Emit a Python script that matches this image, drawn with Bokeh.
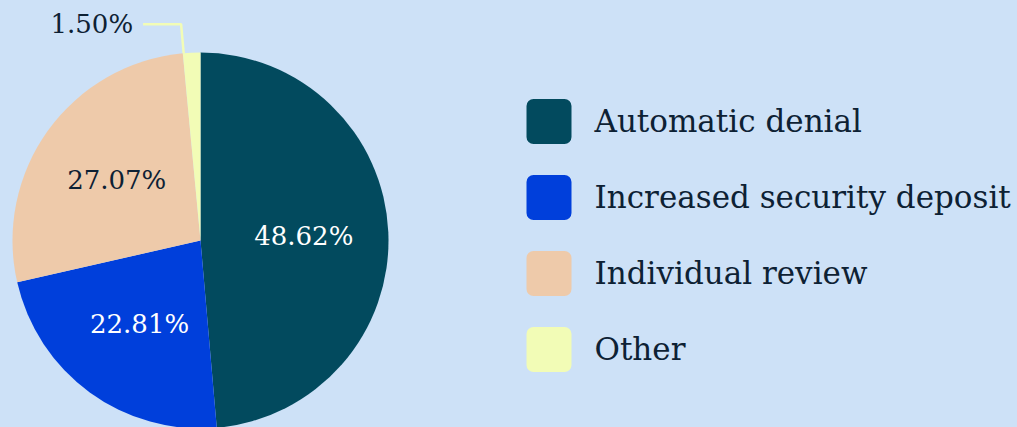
import math
from bokeh.plotting import figure
from bokeh.models import Range1d, ColumnDataSource
from bokeh.core.properties import value
from bokeh.embed import file_html
from bokeh.resources import INLINE

# ---- data ----
categories = ["Automatic denial", "Increased security deposit", "Individual review", "Other"]
shares = [48.62, 22.81, 27.07, 1.50]
colors = ["#024a5e", "#003fdb", "#eecaaa", "#f2fcb6"]
label_colors = ["#ffffff", "#ffffff", "#0d2134", "#0d2134"]

# ---- style ----
BG = "#cde1f7"
TEXT = "#0d2134"
FONT = "DejaVu Serif"
W, H = 1017, 427
CX, CY, R = 200, H - 240, 188
LABEL_FRAC = 0.55

p = figure(width=W, height=H, x_range=Range1d(0, W), y_range=Range1d(0, H),
           output_backend="svg", toolbar_location=None, min_border=0)
p.axis.visible = False
p.grid.visible = False
p.outline_line_color = None
p.background_fill_color = BG
p.border_fill_color = BG

total = sum(shares)
starts, ends, mids = [], [], []
cum = 0.0
for s in shares:
    a0 = math.pi / 2 - 2 * math.pi * cum / total
    cum += s
    a1 = math.pi / 2 - 2 * math.pi * cum / total
    starts.append(a0)
    ends.append(a1)
    mids.append((a0 + a1) / 2)

src = ColumnDataSource(dict(start=starts, end=ends, color=colors))
p.wedge(x=CX, y=CY, radius=R, start_angle="start", end_angle="end", direction="clock",
        fill_color="color", line_color=None, source=src)

# in-slice labels (all but the tiny one)
lx, ly, lt, lc = [], [], [], []
for i, s in enumerate(shares):
    if s < 5:
        continue
    lx.append(CX + LABEL_FRAC * R * math.cos(mids[i]))
    ly.append(CY + LABEL_FRAC * R * math.sin(mids[i]))
    lt.append(f"{s:.2f}%")
    lc.append(label_colors[i])
p.text(x=lx, y=ly, text=lt, text_color=lc, text_font=value(FONT), text_font_size="26px",
       text_align="center", text_baseline="middle")

# leader for small slice
for i, s in enumerate(shares):
    if s >= 5:
        continue
    ang = starts[i] - 0.05 * (starts[i] - ends[i])
    x0, y0 = CX + R * math.cos(ang), CY + R * math.sin(ang)
    x1, y1 = CX + 1.155 * R * math.cos(ang), CY + 1.155 * R * math.sin(ang)
    x2 = x1 - 38
    p.line(x=[x0, x1, x2], y=[y0, y1, y1], line_color=colors[i], line_width=2.5)
    p.text(x=[x2 - 10], y=[y1], text=[f"{s:.2f}%"], text_color=TEXT, text_font=value(FONT),
           text_font_size="26px", text_align="right", text_baseline="middle")

# legend
SQ = 45
LX = 548.5
rows_y = [H - (121 + 76 * i) for i in range(len(categories))]
p.quad(left=[LX - SQ / 2] * len(categories), right=[LX + SQ / 2] * len(categories),
       top=[y + SQ / 2 for y in rows_y], bottom=[y - SQ / 2 for y in rows_y],
       fill_color=colors, line_color=None, border_radius=7)
p.text(x=[594] * len(categories), y=[y + 1 for y in rows_y], text=categories, text_color=TEXT,
       text_font=value(FONT), text_font_size="31px", text_align="left", text_baseline="alphabetic")

html = file_html(p, INLINE)
html = html.replace("</head>", f"<style>html,body{{background:{BG};}}</style></head>", 1)
open("out.html", "w").write(html)
